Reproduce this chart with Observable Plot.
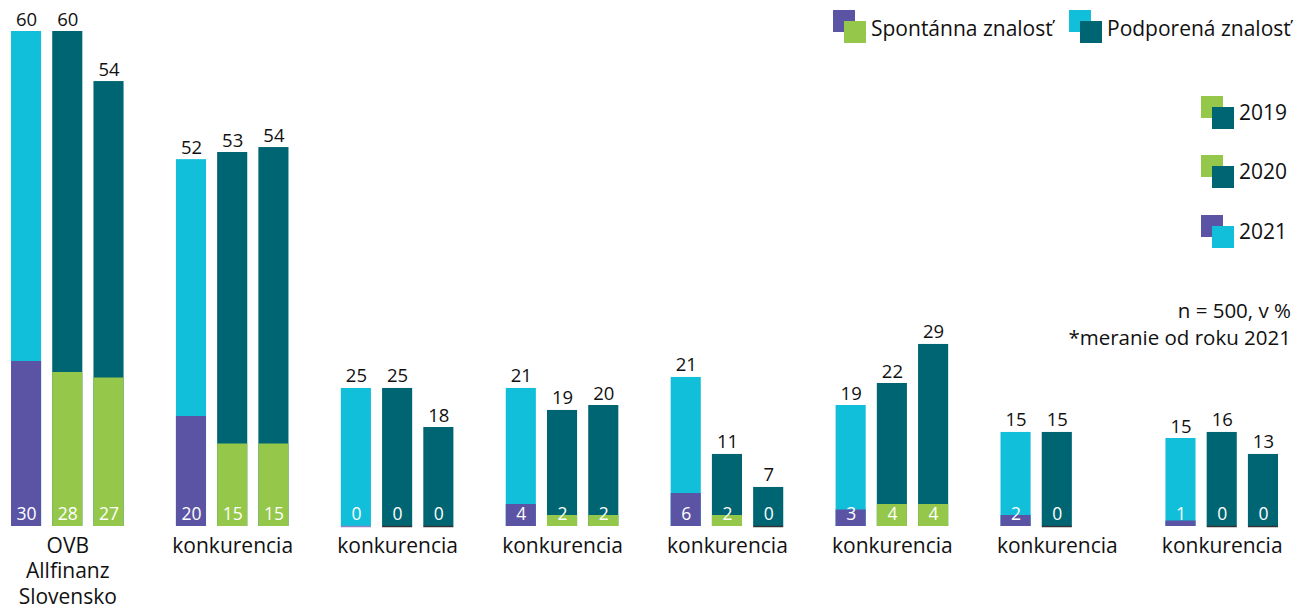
<!DOCTYPE html>
<html><head><meta charset="utf-8">
<script src="https://cdn.jsdelivr.net/npm/d3@7"></script>
<script src="https://cdn.jsdelivr.net/npm/@observablehq/plot@0.6"></script>
<style>
body{margin:0;background:#fff;font-family:"Open Sans",sans-serif}
#chart svg{display:block}
</style>
</head><body><div id="chart"></div>
<script>
// ---- data ----
const groups = ["OVB\nAllfinanz\nSlovensko","konkurencia","konkurencia","konkurencia","konkurencia","konkurencia","konkurencia","konkurencia"];
const years = ["2021","2020","2019"];
// printed values (podporená / spontánna znalosť, %)
const supported2021 = [60,52,25,21,21,19,15,15];
const supported2020 = [60,53,25,19,11,22,15,16];
const supported2019 = [54,54,18,20,7,29,null,13];
const spont2021 = [30,20,0,4,6,3,2,1];
const spont2020 = [28,15,0,2,2,4,0,0];
const spont2019 = [27,15,0,2,0,4,null,0];
// in the reference the "podporená" bars are not drawn to the printed values;
// their drawn heights in the same units as the spontánna bars
const supportedBar2021 = [90,66.7,25.1,25.1,27.1,22,17.1,16];
const supportedBar2020 = [90,68,25.1,21.1,13.1,26,17.1,17.1];
const supportedBar2019 = [80.9,68.9,18,22,7.1,33.1,null,13.1];
const legendSeries = ["Spontánna znalosť","Podporená znalosť"];
const legendYears = ["2019","2020","2021"];
const notes = ["n = 500, v %","*meranie od roku 2021"];

const COL = {purple:"#5B54A4", green:"#95C84A", cyan:"#12BFDA", teal:"#006573"};

const supported = {"2021":supported2021,"2020":supported2020,"2019":supported2019};
const supportedBar = {"2021":supportedBar2021,"2020":supportedBar2020,"2019":supportedBar2019};
const spont = {"2021":spont2021,"2020":spont2020,"2019":spont2019};

// one band slot per bar, plus one empty slot between groups
const SLOTS = groups.length * (years.length + 1) - 1;
const rows = [];
groups.forEach((g,i) => years.forEach((y,j) => {
  if (supported[y][i] == null) return;
  rows.push({gi:i, slot:i*(years.length+1)+j, year:y, sup:supported[y][i], supBar:supportedBar[y][i], sp:spont[y][i]});
}));
const groupTicks = groups.map((g,i) => i*(years.length+1)+1);

const chart = Plot.plot({
  width:1295, height:609,
  marginTop:31, marginBottom:83, marginLeft:11, marginRight:17,
  style:{fontFamily:"'Open Sans', sans-serif", color:"#111", background:"#fff"},
  x:{type:"band", domain:d3.range(SLOTS), paddingInner:0.27, paddingOuter:0, align:0, round:false},
  y:{domain:[0,90], axis:null},
  color:{domain:["sup2021","sup","sp2021","sp"], range:[COL.cyan,COL.teal,COL.purple,COL.green]},
  marks:[
    Plot.barY(rows, {x:"slot", y1:0, y2:"supBar", fill:d => d.year==="2021"?"sup2021":"sup"}),
    Plot.barY(rows.filter(d=>d.sp>0), {x:"slot", y1:0, y2:"sp", fill:d => d.year==="2021"?"sp2021":"sp"}),
    Plot.tickY(rows.filter(d=>d.sp===0 && d.year==="2021"), {x:"slot", y:0, stroke:"#8c86c6", strokeWidth:1.5}),
    Plot.tickY(rows.filter(d=>d.sp===0 && d.year!=="2021"), {x:"slot", y:0, stroke:"#333", strokeWidth:1.5}),
    Plot.text(rows, {x:"slot", y:"supBar", text:d=>String(d.sup), dy:-6, lineAnchor:"bottom", fontSize:18.5, fill:"#111"}),
    Plot.text(rows, {x:"slot", y:0, text:d=>String(d.sp), dy:-7, lineAnchor:"bottom", fontSize:17.5, fill:"#fff"}),
    Plot.axisX({ticks:groupTicks, tickSize:0, tickPadding:8, fontSize:21, lineHeight:1.22,
      tickFormat:v => groups[(v-1)/(years.length+1)], label:null, fill:"#111"})
  ]
});
document.getElementById("chart").append(chart);

// ---- legend & notes (drawn into the same svg) ----
const svg = d3.select(chart);
const lg = svg.append("g").attr("font-family","'Open Sans', sans-serif").attr("fill","#111").attr("text-anchor","start");
const seriesColors = [[COL.purple,COL.green],[COL.cyan,COL.teal]];
const seriesX = [833,1069];
legendSeries.forEach((t,i) => {
  const x = seriesX[i];
  lg.append("rect").attr("x",x).attr("y",10).attr("width",22).attr("height",22).attr("fill",seriesColors[i][0]);
  lg.append("rect").attr("x",x+11).attr("y",21).attr("width",22).attr("height",22).attr("fill",seriesColors[i][1]);
  lg.append("text").attr("x",x+38).attr("y",36).attr("font-size",21).attr("text-anchor","start").text(t);
});
const yearColors = {"2019":[COL.green,COL.teal],"2020":[COL.green,COL.teal],"2021":[COL.purple,COL.cyan]};
const yearTop = [96,155,215];
legendYears.forEach((t,i) => {
  const y = yearTop[i];
  lg.append("rect").attr("x",1201).attr("y",y).attr("width",22).attr("height",22).attr("fill",yearColors[t][0]);
  lg.append("rect").attr("x",1212).attr("y",y+11).attr("width",22).attr("height",22).attr("fill",yearColors[t][1]);
  lg.append("text").attr("x",1239).attr("y",y+24).attr("font-size",21).attr("text-anchor","start").text(t);
});
const noteY = [318,345];
notes.forEach((t,i) => {
  lg.append("text").attr("x",1291).attr("y",noteY[i]).attr("text-anchor","end").attr("font-size",20.5).text(t);
});
</script>
</body></html>
